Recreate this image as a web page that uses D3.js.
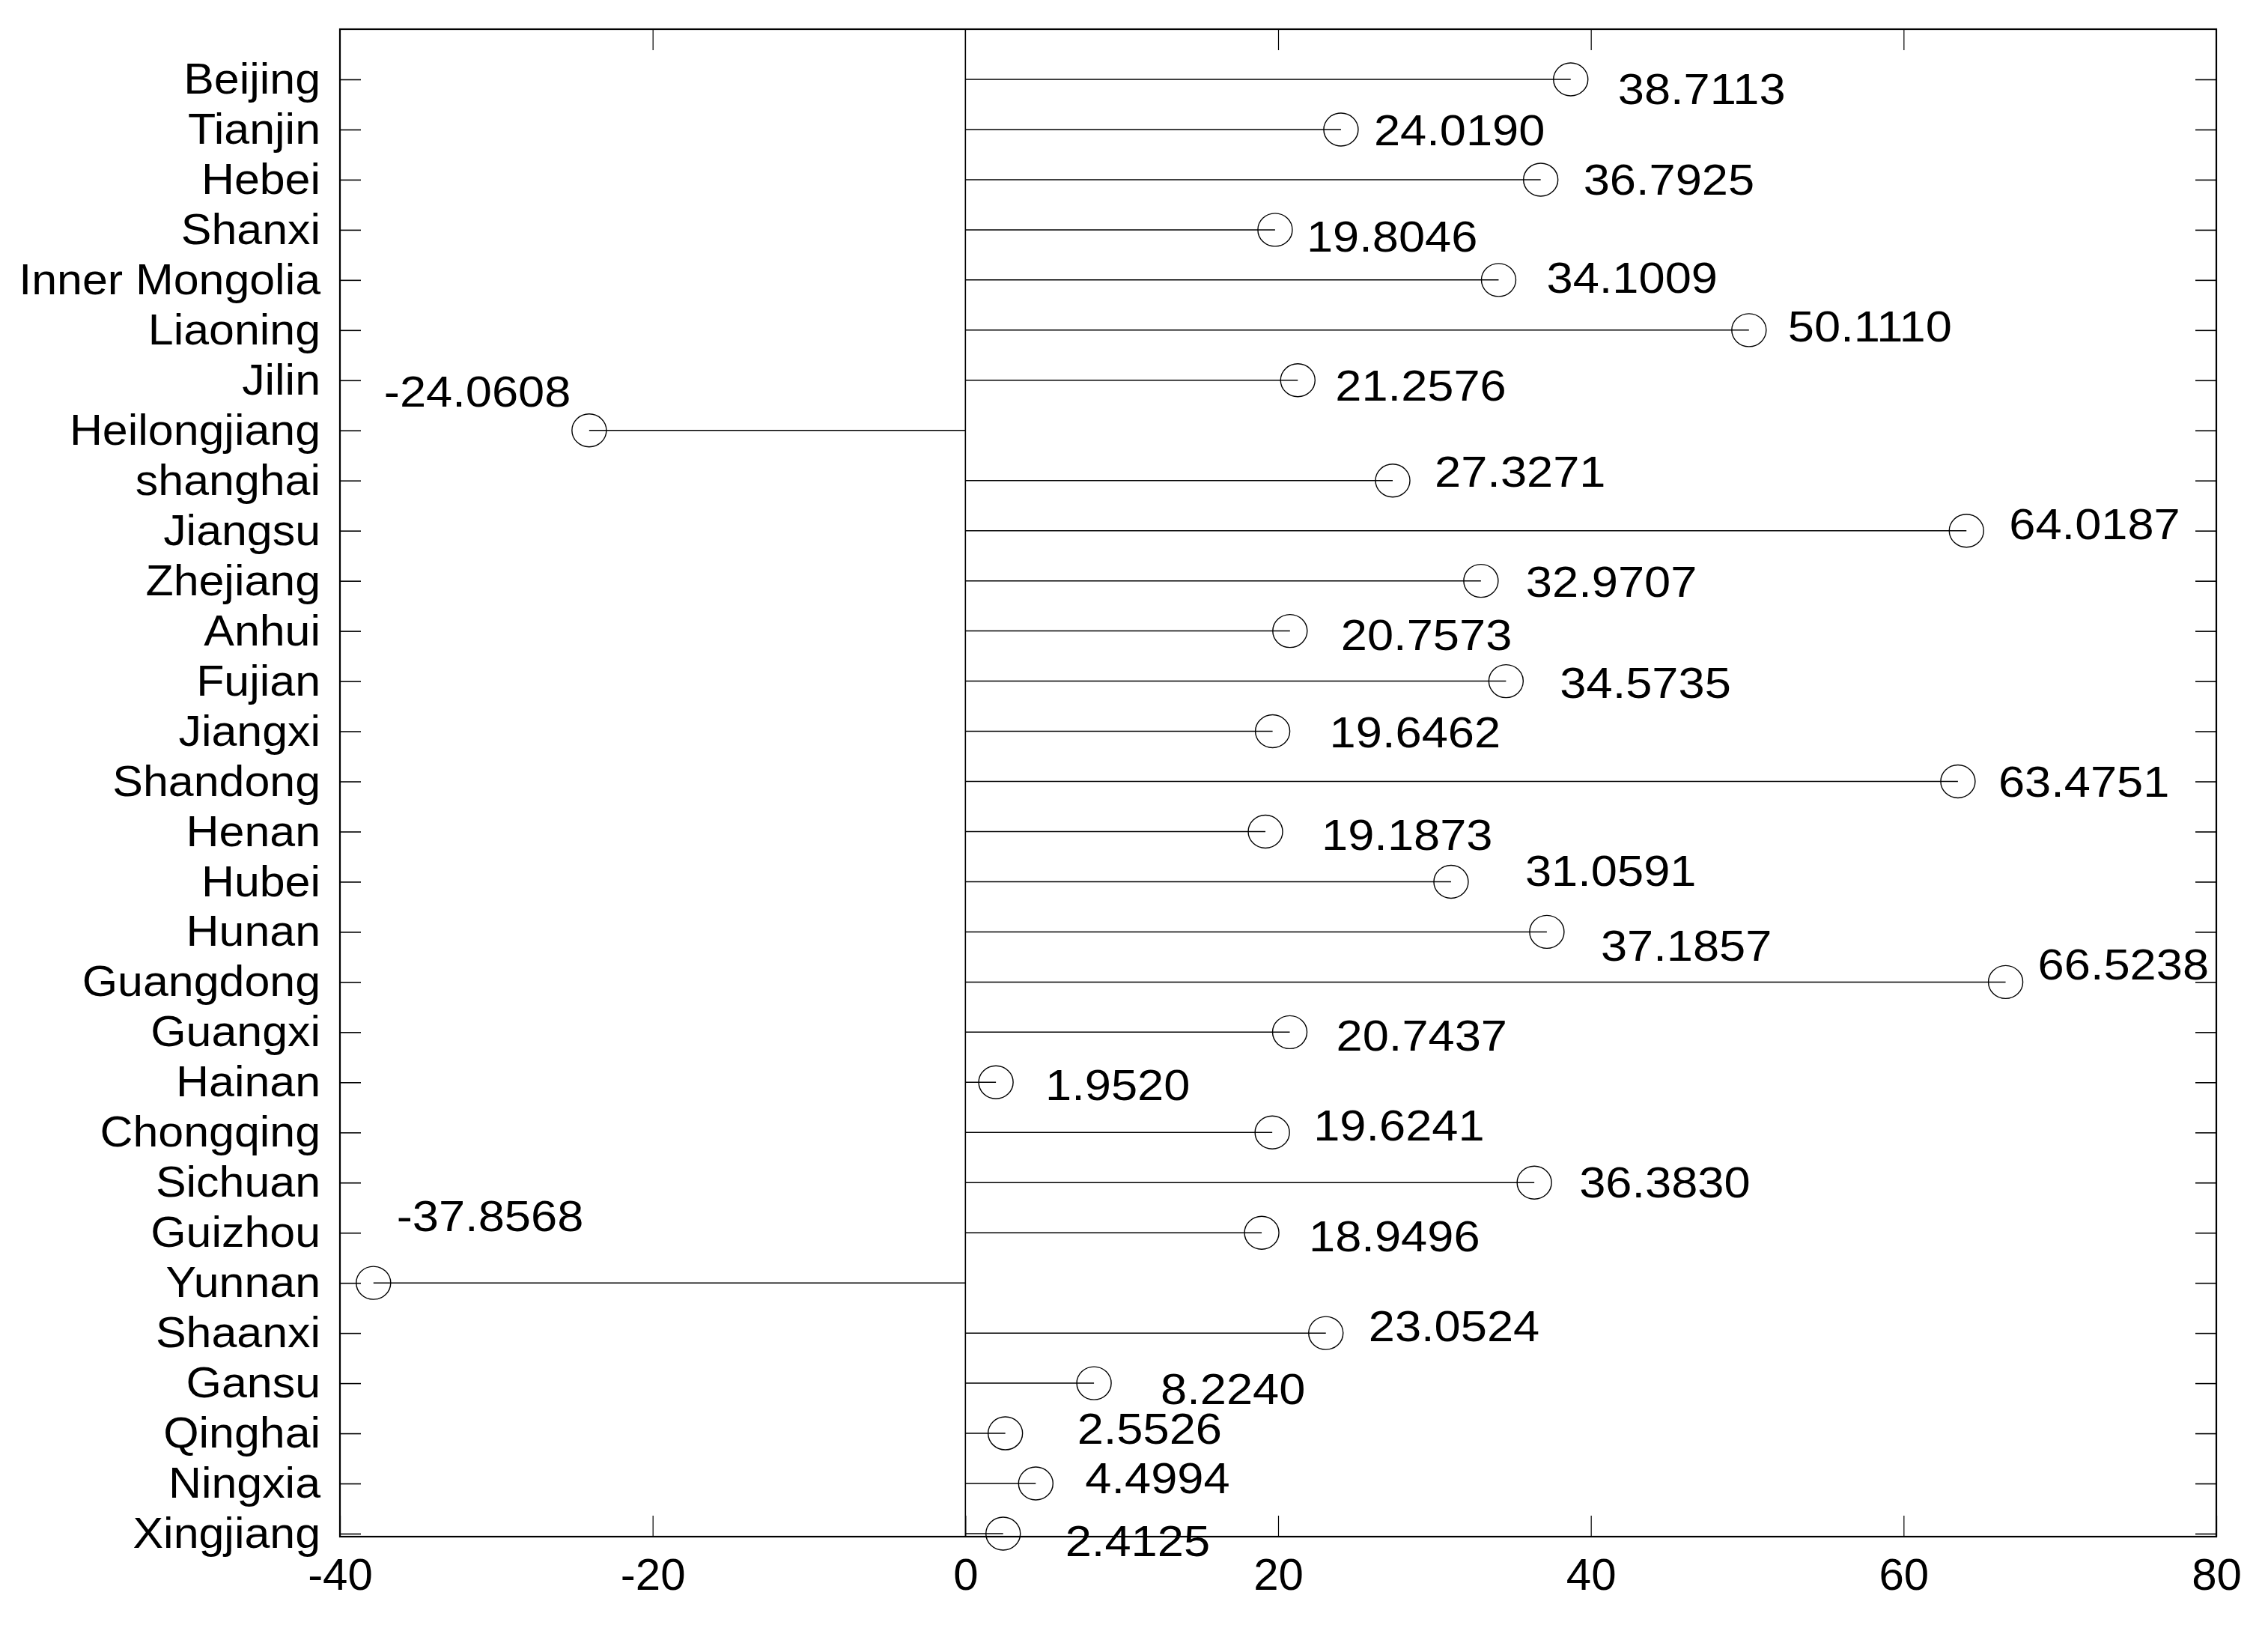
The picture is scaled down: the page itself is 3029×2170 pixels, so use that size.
<!DOCTYPE html>
<html>
<head>
<meta charset="utf-8">
<script src="https://cdn.jsdelivr.net/npm/d3@7"></script>
<style>
  html, body { margin: 0; padding: 0; background: #fff; }
  svg { display: block; }
  text { font-family: "Liberation Sans", Arial, sans-serif; fill: #000; }
</style>
</head>
<body>
<svg id="chart" width="3029" height="2170"></svg>
<script>
// ---- data ----
const categories = ["Beijing","Tianjin","Hebei","Shanxi","Inner Mongolia","Liaoning","Jilin","Heilongjiang","shanghai","Jiangsu","Zhejiang","Anhui","Fujian","Jiangxi","Shandong","Henan","Hubei","Hunan","Guangdong","Guangxi","Hainan","Chongqing","Sichuan","Guizhou","Yunnan","Shaanxi","Gansu","Qinghai","Ningxia","Xingjiang"];
const values = [38.7113, 24.0190, 36.7925, 19.8046, 34.1009, 50.1110, 21.2576, -24.0608, 27.3271, 64.0187, 32.9707, 20.7573, 34.5735, 19.6462, 63.4751, 19.1873, 31.0591, 37.1857, 66.5238, 20.7437, 1.9520, 19.6241, 36.3830, 18.9496, -37.8568, 23.0524, 8.2240, 2.5526, 4.4994, 2.4125];
const xTicks = [-40, -20, 0, 20, 40, 60, 80];
const xDomain = [-40, 80];

// ---- layout: label nudges (px from each point: text start x, baseline y) ----
const labelNudge = [[63,33],[44,21],[57,20],[42,29],[64,17],[52,15],[50,27],[-274,-32],[56,8],[57,11],[60,21],[68,25],[72,22],[76,21],[54,20],[75,25],[99,6],[72,39],[43,-3],[62,25],[66,24],[55,11],[60,20],[63,25],[31,-69],[57,11],[89,28],[96,14],[66,13],[83,30]];

const L = 454, R = 2960, T = 39, B = 2052;
const svg = d3.select("#chart");
const x = d3.scaleLinear().domain(xDomain).range([L, R]);
const y = d3.scalePoint().domain(categories).range([106, 2048]);

const fontSize = 58, catStretch = 1.05, valStretch = 1.09;
const FONT = '"Liberation Sans", Arial, sans-serif';

// frame
svg.append("rect").attr("x", L).attr("y", T).attr("width", R - L).attr("height", B - T)
  .attr("fill", "none").attr("stroke", "#000").attr("stroke-width", 2.2);

// zero line
svg.append("line").attr("x1", x(0)).attr("x2", x(0)).attr("y1", T).attr("y2", B)
  .attr("stroke", "#000").attr("stroke-width", 1.6);

// left axis
const gl = svg.append("g").attr("transform", `translate(${L},0)`)
  .call(d3.axisLeft(y).tickSize(-28).tickPadding(26));
gl.select(".domain").remove();
gl.selectAll(".tick line").attr("stroke", "#000").attr("stroke-width", 1.6);
gl.selectAll(".tick text").attr("font-size", fontSize).attr("font-family", FONT)
  .attr("x", -26 / catStretch).attr("transform", `scale(${catStretch},1)`);

// right axis
const gr = svg.append("g").attr("transform", `translate(${R},0)`)
  .call(d3.axisRight(y).tickSize(-28).tickFormat(""));
gr.select(".domain").remove();
gr.selectAll(".tick line").attr("stroke", "#000").attr("stroke-width", 1.6);

// bottom axis
const gb = svg.append("g").attr("transform", `translate(0,${B})`)
  .call(d3.axisBottom(x).tickValues(xTicks).tickSize(-28).tickPadding(28).tickFormat(d => String(d)));
gb.select(".domain").remove();
gb.selectAll(".tick line").attr("stroke", "#000").attr("stroke-width", 1.2);
gb.selectAll(".tick text").attr("font-size", fontSize + 2).attr("font-family", FONT);

// top axis
const gt = svg.append("g").attr("transform", `translate(0,${T})`)
  .call(d3.axisTop(x).tickValues(xTicks.filter(d => d > xDomain[0] && d < xDomain[1] && d !== 0)).tickSize(-28).tickFormat(""));
gt.select(".domain").remove();
gt.selectAll(".tick line").attr("stroke", "#000").attr("stroke-width", 1.2);

// stems
const data = categories.map((c, i) => ({ c, v: values[i], n: labelNudge[i] }));
svg.append("g").selectAll("line").data(data).join("line")
  .attr("x1", x(0)).attr("x2", d => x(d.v))
  .attr("y1", d => y(d.c)).attr("y2", d => y(d.c))
  .attr("stroke", "#000").attr("stroke-width", 1.5);

// markers
svg.append("g").selectAll("ellipse").data(data).join("ellipse")
  .attr("cx", d => x(d.v)).attr("cy", d => y(d.c))
  .attr("rx", 23).attr("ry", 22)
  .attr("fill", "none").attr("stroke", "#000").attr("stroke-width", 1.4);

// value labels
svg.append("g").selectAll("text").data(data).join("text")
  .attr("transform", d => `translate(${x(d.v) + d.n[0]},${y(d.c) + d.n[1]}) scale(${valStretch},1)`)
  .attr("font-size", fontSize)
  .text(d => d.v.toFixed(4));
</script>
</body>
</html>
